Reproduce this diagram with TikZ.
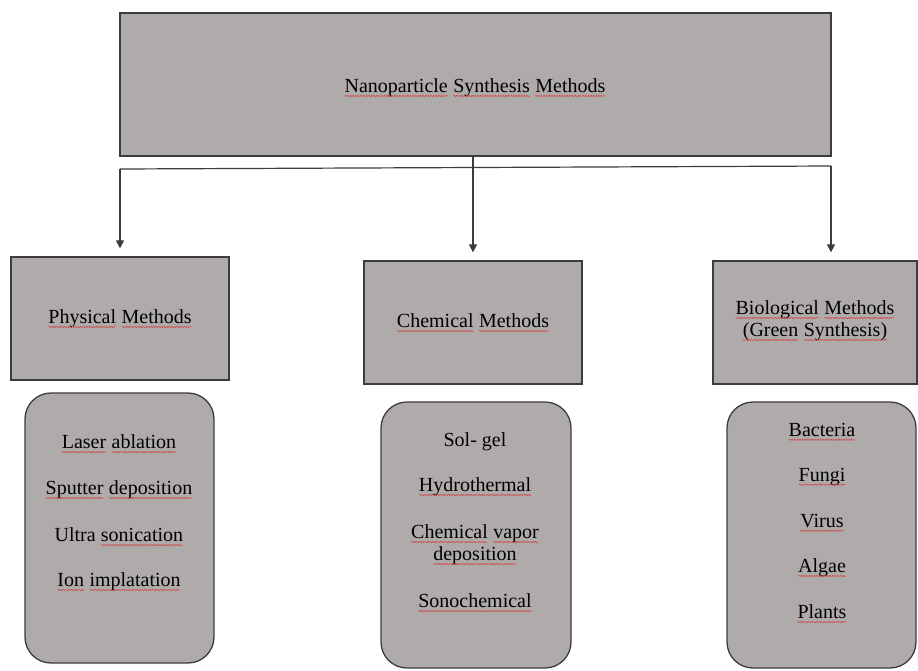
\documentclass[tikz,border=0pt]{standalone}
\usepackage{fontspec}
\setmainfont{Liberation Serif}
\usetikzlibrary{arrows.meta,decorations.pathmorphing}
\definecolor{boxgray}{RGB}{175,171,171}
\definecolor{edgegray}{RGB}{60,60,60}
\definecolor{squig}{RGB}{215,60,60}
\newcommand\sqw[1]{\tikz[baseline=(w.base)]{\node[inner sep=0pt,outer sep=0pt,anchor=base] (w) at (0,0) {#1};\draw[squig,line width=0.45pt,decorate,decoration={snake,amplitude=0.7pt,segment length=2.6pt}] ([yshift=-3.2pt]w.base west) -- ([yshift=-3.2pt]w.base east);}}
\tikzset{
  sqbox/.style={draw=edgegray, line width=1.3pt, fill=boxgray, rectangle, inner sep=0pt},
  rbox/.style={draw=edgegray, line width=1.3pt, fill=boxgray, rectangle, rounded corners=26pt, inner sep=0pt},
  item/.style={font=\fontsize{20}{22}\selectfont, align=center, inner sep=0pt, text=black},
  conn/.style={draw=edgegray, line width=1.2pt},
  arr/.style={conn, -{Triangle[length=8pt,width=8pt]}, shorten >=8pt}
}
\begin{document}
\begin{tikzpicture}[x=1pt,y=-1pt]
\useasboundingbox (0,0) rectangle (918,670);
% top box
\node[sqbox, minimum width=711pt, minimum height=143pt] (top) at (475.5,84.5) {};
\node[item] (toptxt) at (475,88) {\sqw{Nanoparticle} \sqw{Synthesis} \sqw{Methods}};
% level-2 boxes
\node[sqbox, minimum width=218pt, minimum height=123pt] (phys) at (120,318.5) {};
\node[item] (physt) at (120,319) {\sqw{Physical} \sqw{Methods}};
\node[sqbox, minimum width=218pt, minimum height=123pt] (chem) at (473,322.5) {};
\node[item] (chemt) at (473,323) {\sqw{Chemical} \sqw{Methods}};
\node[sqbox, minimum width=204pt, minimum height=123pt] (bio) at (815,322.5) {};
\node[item] (biot) at (815,321) {\sqw{Biological} \sqw{Methods}\\\sqw{(Green} \sqw{Synthesis)}};
% rounded list boxes
\node[rbox, minimum width=189pt, minimum height=270pt] (physl) at (119.5,528) {};
\node[rbox, minimum width=190pt, minimum height=266pt] (cheml) at (476,535) {};
\node[rbox, minimum width=189pt, minimum height=266pt] (biol) at (821.5,535) {};
% items physical
\node[item] (p1) at (119,444) {\sqw{Laser} \sqw{ablation}};
\node[item] (p2) at (119,490) {\sqw{Sputter} \sqw{deposition}};
\node[item] (p3) at (119,537) {Ultra \sqw{sonication}};
\node[item] (p4) at (119,582) {\sqw{Ion} \sqw{implatation}};
% items chemical
\node[item] (c1) at (475,442) {Sol- gel};
\node[item] (c2) at (475,487) {\sqw{Hydrothermal}};
\node[item] (c3) at (475,545) {\sqw{Chemical} \sqw{vapor}\\\sqw{deposition}};
\node[item] (c4) at (475,603) {\sqw{Sonochemical}};
% items biological
\node[item] (b1) at (822,432) {\sqw{Bacteria}};
\node[item] (b2) at (822,477) {\sqw{Fungi}};
\node[item] (b3) at (822,523) {\sqw{Virus}};
\node[item] (b4) at (822,568) {\sqw{Algae}};
\node[item] (b5) at (822,614) {\sqw{Plants}};
% connectors
\coordinate (hl) at (120,169);
\coordinate (hr) at (831,166);
\draw[conn] (hl) -- (hr);
\draw[arr] (hl) -- (hl |- phys.north);
\draw[arr] (top.south -| chem.north) -- (chem.north);
\draw[arr] (hr) -- (hr |- bio.north);
\end{tikzpicture}
\end{document}
